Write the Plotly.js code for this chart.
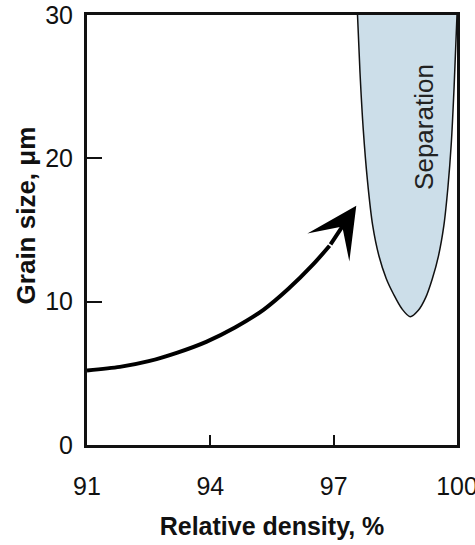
<!DOCTYPE html>
<html>
<head>
<meta charset="utf-8">
<script src="https://cdn.plot.ly/plotly-3.0.1.min.js"></script>
<style>html,body{margin:0;padding:0;background:#fff;}</style>
</head>
<body>
<div id="chart" style="width:475px;height:545px;"></div>
<script>
// Axis ticks
const xTicks = [91, 94, 97, 100];
const yTicks = [0, 10, 20, 30];

// Separation region boundary (relative density %, grain size µm)
const sepX = [97.58, 97.64, 97.72, 97.82, 97.95, 98.10, 98.28, 98.46, 98.66, 98.86, 99.06, 99.24, 99.40, 99.55, 99.68, 99.78, 99.86, 99.93, 100.0];
const sepY = [30, 26, 22, 18.5, 15.3, 13.2, 11.6, 10.5, 9.5, 8.95, 9.4, 10.3, 11.6, 13.2, 15.3, 18.0, 21.0, 25.0, 30];

// Densification path (arrow)
const pathX = [91.0, 91.8, 92.5, 93.2, 93.9, 94.6, 95.3, 95.9, 96.5, 96.9];
const pathY = [5.2, 5.45, 5.85, 6.45, 7.2, 8.2, 9.45, 10.9, 12.6, 13.9];
const arrowTip = [97.55, 16.7];

const font = "Liberation Sans, Arial, sans-serif";

const traces = [
  {
    x: sepX, y: sepY, type: 'scatter', mode: 'lines',
    fill: 'toself', fillcolor: '#ccdee9',
    line: {color: '#111', width: 1.5, shape: 'spline', smoothing: 0.8},
    hoverinfo: 'skip', showlegend: false
  },
  {
    x: pathX, y: pathY, type: 'scatter', mode: 'lines',
    line: {color: '#000', width: 4, shape: 'spline', smoothing: 0.8},
    hoverinfo: 'skip', showlegend: false
  }
];

const layout = {
  width: 475, height: 545,
  margin: {l: 87, r: 18, t: 15, b: 100},
  paper_bgcolor: '#fff', plot_bgcolor: '#fff',
  showlegend: false,
  font: {family: font, color: '#111'},
  xaxis: {
    range: [91, 100], tickvals: xTicks, ticktext: xTicks.map(String),
    ticks: 'inside', ticklen: 10, tickwidth: 2, tickcolor: '#111',
    showline: true, linewidth: 3, linecolor: '#111', mirror: true,
    showgrid: false, zeroline: false, layer: 'above traces',
    ticklabeloverflow: 'allow',
    tickfont: {size: 25, family: font, color: '#111'},
    ticklabelstandoff: 17,
    title: {text: '<b>Relative density, %</b>', font: {size: 25, family: font, color: '#111'}, standoff: 19}
  },
  yaxis: {
    range: [0, 30], tickvals: yTicks, ticktext: yTicks.map(String),
    ticks: 'inside', ticklen: 15, tickwidth: 2, tickcolor: '#111',
    showline: true, linewidth: 3, linecolor: '#111', mirror: true,
    showgrid: false, zeroline: false, layer: 'above traces',
    ticklabeloverflow: 'allow',
    tickfont: {size: 25, family: font, color: '#111'},
    ticklabelstandoff: 6,
    title: {text: '&nbsp;&nbsp;&nbsp;&nbsp;<b>Grain size, μm</b>', font: {size: 26, family: font, color: '#111'}, standoff: 3}
  },
  annotations: [
    {
      x: arrowTip[0], y: arrowTip[1], xref: 'x', yref: 'y',
      ax: pathX[pathX.length - 1], ay: pathY[pathY.length - 1], axref: 'x', ayref: 'y',
      text: '', showarrow: true, arrowhead: 3, arrowsize: 2.1, arrowwidth: 4,
      arrowcolor: '#000', standoff: 0
    },
    {
      x: 99.2, y: 22.2, xref: 'x', yref: 'y',
      text: 'Separation', showarrow: false, textangle: -90,
      font: {size: 26, family: font, color: '#222'}
    }
  ]
};

Plotly.newPlot('chart', traces, layout, {displayModeBar: false, staticPlot: true});
</script>
</body>
</html>
